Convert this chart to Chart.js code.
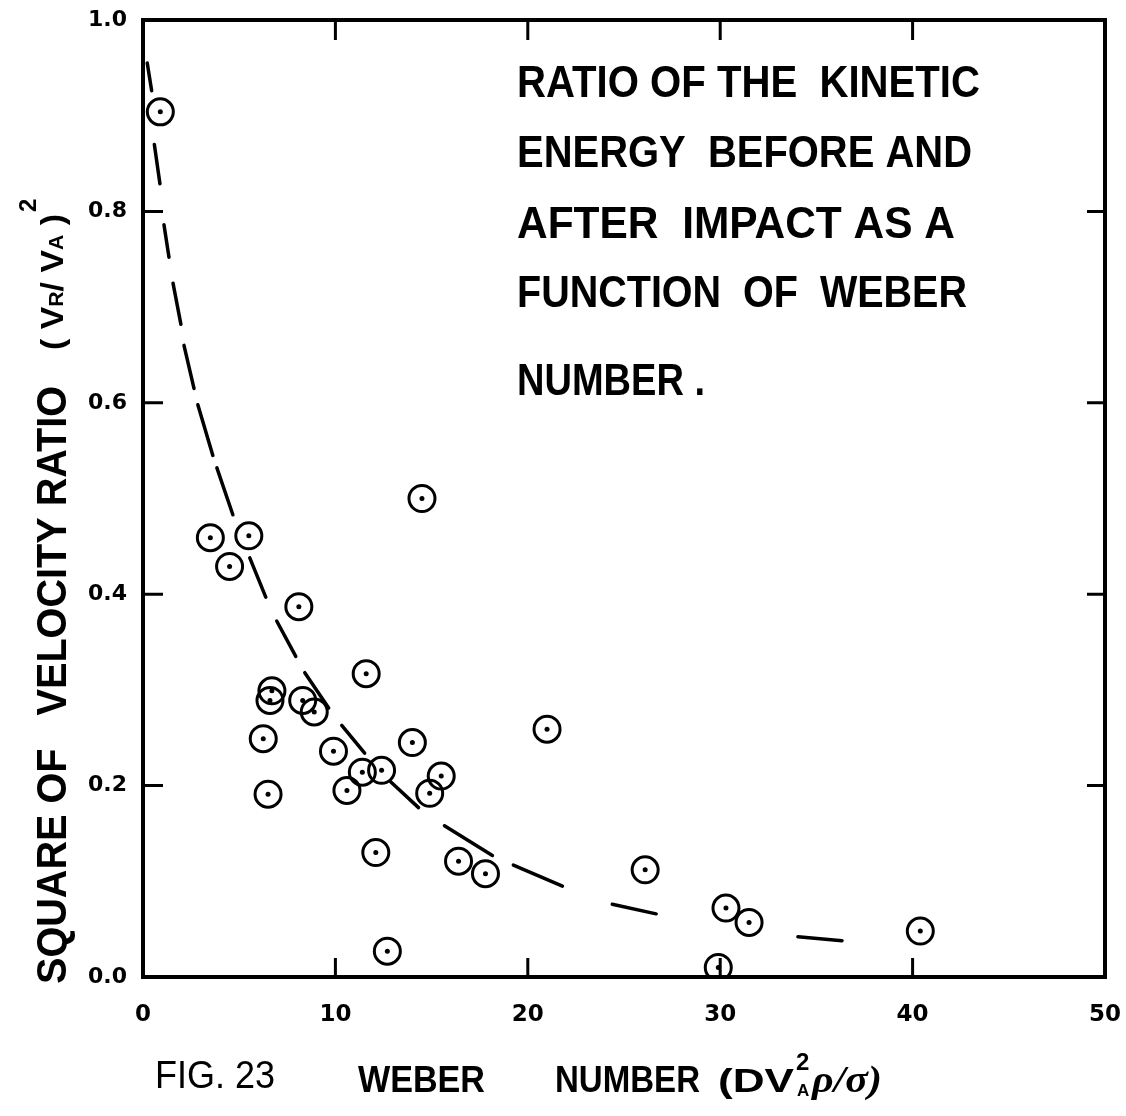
<!DOCTYPE html>
<html><head><meta charset="utf-8">
<script src="https://cdn.jsdelivr.net/npm/chart.js@4.4.1/dist/chart.umd.min.js"></script>
<style>html,body{margin:0;padding:0;background:#fff;overflow:hidden}</style>
</head><body>
<canvas id="c" width="1126" height="1116" style="display:block;width:1126px;height:1116px"></canvas>
<script>
// Measured points: Weber number vs square of velocity ratio
const weberNumber = [0.9,3.5,4.5,5.5,14.5,8.1,11.6,6.7,6.6,8.3,8.9,21.0,6.25,9.9,14.0,11.4,12.4,10.6,15.5,14.9,6.5,12.1,16.4,17.8,12.7,26.1,30.3,31.5,29.9,40.4];
const velocityRatioSq = [0.904,0.459,0.429,0.461,0.500,0.387,0.317,0.299,0.289,0.289,0.277,0.259,0.249,0.236,0.245,0.214,0.216,0.195,0.210,0.192,0.191,0.130,0.121,0.108,0.027,0.112,0.072,0.057,0.010,0.048];
// Hand-drawn dashed trend curve: each dash start/end
const dashStartX = [0.22,0.59,1.09,1.56,2.13,2.85,3.84,5.55,6.95,8.41,10.33,12.87,15.67,19.25,24.39,34.04];
const dashStartY = [0.955,0.870,0.786,0.725,0.660,0.598,0.532,0.438,0.372,0.318,0.263,0.204,0.158,0.117,0.076,0.042];
const dashEndX   = [0.45,0.88,1.35,1.97,2.65,3.63,4.67,6.38,7.94,9.65,11.52,14.32,18.16,21.80,26.67,36.33];
const dashEndY   = [0.926,0.829,0.752,0.682,0.615,0.545,0.483,0.397,0.335,0.281,0.234,0.177,0.127,0.095,0.066,0.038];
const xTickStep = 10, xMin = 0, xMax = 50;
const yTickStep = 0.2, yMin = 0, yMax = 1.0;
const noteLines = ['RATIO OF THE  KINETIC','ENERGY  BEFORE AND','AFTER  IMPACT AS A','FUNCTION  OF  WEBER','NUMBER .'];

const points = weberNumber.map((x,i)=>({x:x,y:velocityRatioSq[i]}));
const curve = [];
dashStartX.forEach((x,i)=>{
  curve.push({x:x,y:dashStartY[i]});
  curve.push({x:dashEndX[i],y:dashEndY[i]});
  curve.push({x:dashEndX[i],y:null});
});

function drawFit(ctx, text, x, y, w, font){
  ctx.font = font;
  const m = ctx.measureText(text).width;
  ctx.save(); ctx.translate(x,y); ctx.scale(w/m,1); ctx.fillText(text,0,0); ctx.restore();
}
const F = (s,w)=> (w||'bold') + ' ' + s + 'px "Liberation Sans", Arial, sans-serif';

const decor = {
  id:'decor',
  afterDatasetsDraw(chart){
    const ctx = chart.ctx, a = chart.chartArea, xs = chart.scales.x, ys = chart.scales.y;
    ctx.save();
    ctx.strokeStyle = '#000'; ctx.fillStyle = '#000';
    // frame
    ctx.lineWidth = 4;
    ctx.strokeRect(a.left, a.top, a.right-a.left, a.bottom-a.top);
    // inward ticks on all four sides
    ctx.lineWidth = 3;
    for(let v = xMin+xTickStep; v < xMax; v += xTickStep){
      const px = xs.getPixelForValue(v);
      ctx.beginPath(); ctx.moveTo(px,a.top); ctx.lineTo(px,a.top+20);
      ctx.moveTo(px,a.bottom); ctx.lineTo(px,a.bottom-19); ctx.stroke();
    }
    for(let v = yMin+yTickStep; v < yMax-1e-6; v += yTickStep){
      const py = ys.getPixelForValue(v);
      ctx.beginPath(); ctx.moveTo(a.left,py); ctx.lineTo(a.left+20,py);
      ctx.moveTo(a.right,py); ctx.lineTo(a.right-18,py); ctx.stroke();
    }
    // note text block
    ctx.textBaseline = 'alphabetic'; ctx.textAlign = 'left';
    const noteW = [463,455,438,450,188];
    const noteY = [97,167,238,307,395];
    noteLines.forEach((t,i)=>drawFit(ctx,t,517,noteY[i],noteW[i],F(44)));

    // Y axis title (rotated)
    ctx.save();
    ctx.translate(66, 984); ctx.rotate(-Math.PI/2);
    drawFit(ctx,'SQUARE OF   VELOCITY RATIO',0,0,598,F(42));
    // (VR/ VA)^2
    const parts = [['( ',F(32)],['V',F(32)],['R',F(20)],['/ ',F(32)],['V',F(32)],['A',F(20)],[' )',F(32)]];
    let total = 0;
    parts.forEach(p=>{ ctx.font=p[1]; total += ctx.measureText(p[0]).width; });
    const sx = 136/total;
    let x = 634;
    parts.forEach(p=>{ ctx.font=p[1]; const w=ctx.measureText(p[0]).width*sx;
      ctx.save(); ctx.translate(x,-3); ctx.scale(sx,1); ctx.fillText(p[0],0,0); ctx.restore(); x+=w; });
    ctx.font = F(24); ctx.fillText('2', x+2, -30);
    ctx.restore();

    // X axis title
    drawFit(ctx,'FIG. 23',155,1088,120,F(38,'normal'));
    drawFit(ctx,'WEBER',358,1092,127,F(36));
    drawFit(ctx,'NUMBER',555,1092,145,F(36));
    drawFit(ctx,'(DV',718,1092,76,F(34));
    ctx.font = F(24); ctx.fillText('2',796,1070);
    ctx.font = F(17); ctx.fillText('A',797,1096);
    drawFit(ctx,'ρ/σ)',812,1092,70,'italic bold 38px "Liberation Serif", serif');
    ctx.restore();
  }
};

new Chart(document.getElementById('c'), {
  type:'scatter',
  data:{datasets:[
    {type:'line', data:curve, borderColor:'#000', borderWidth:3.5, pointRadius:0, spanGaps:false, borderCapStyle:'round', tension:0, fill:false},
    {data:points, pointRadius:13, pointBorderWidth:3, pointBackgroundColor:'rgba(0,0,0,0)', pointBorderColor:'#000'},
    {data:points, pointRadius:2.5, pointBorderWidth:0, pointBackgroundColor:'#000', pointBorderColor:'#000'}
  ]},
  options:{
    responsive:false, animation:false, events:[],
    layout:{padding:{top:20,right:21,left:0,bottom:0}},
    plugins:{legend:{display:false}, tooltip:{enabled:false}},
    scales:{
      x:{type:'linear', min:xMin, max:xMax,
         grid:{display:false, drawTicks:false}, border:{display:false},
         ticks:{stepSize:xTickStep, padding:24, color:'#000', font:{family:'DejaVu Sans', weight:'bold', size:23}},
         afterFit(s){ s.height = 139; s.paddingLeft = 0; s.paddingRight = 0; }},
      y:{type:'linear', min:yMin, max:yMax,
         grid:{display:false, drawTicks:false}, border:{display:false},
         ticks:{stepSize:yTickStep, padding:16, color:'#000', callback:v=>Number(v).toFixed(1), font:{family:'DejaVu Sans', weight:'bold', size:22}},
         afterFit(s){ s.width = 143; s.paddingTop = 0; s.paddingBottom = 0; }}
    }
  },
  plugins:[decor]
});
</script>
</body></html>
